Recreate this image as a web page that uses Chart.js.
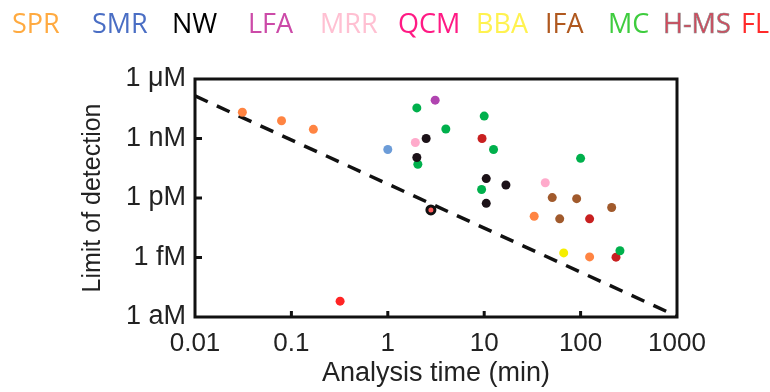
<!DOCTYPE html>
<html>
<head>
<meta charset="utf-8">
<script src="https://cdn.jsdelivr.net/npm/chart.js@4.4.1/dist/chart.umd.min.js"></script>
<style>
  body { margin: 0; background: #fff; }
  #wrap { position: relative; width: 770px; height: 392px; }
  #legend span { position: absolute; top: 9px; font-family: "Open Sans", sans-serif; font-size: 27px; line-height: 27px; white-space: nowrap; }
</style>
</head>
<body>
<div id="wrap">
  <canvas id="lodChart" width="770" height="392"></canvas>
  <div id="legend"></div>
</div>
<script>
// legend entries (technique names)
const techniques = ['SPR', 'SMR', 'NW', 'LFA', 'MRR', 'QCM', 'BBA', 'IFA', 'MC', 'H-MS', 'FL']

// analysis time (min) / limit of detection (M)
const sprTime = [0.031, 0.079, 0.169, 33, 124]
const sprLod = [2.1e-8, 7.9e-9, 2.9e-9, 1.2e-13, 1.07e-15]
const smrTime = [1.0]
const smrLod = [2.8e-10]
const nwTime = [2.0, 2.5, 10.5, 16.8, 10.5]
const nwLod = [1.1e-10, 1e-9, 9.5e-12, 4.5e-12, 5.4e-13]
const lfaTime = [3.1]
const lfaLod = [8.6e-8]
const mrrTime = [1.93, 43]
const mrrLod = [6.3e-10, 5.9e-12]
const bbaTime = [66.8]
const bbaLod = [1.7e-15]
const ifaTime = [50.8, 91, 210, 60.7]
const ifaLod = [1.05e-12, 9.3e-13, 3.3e-13, 8.9e-14]
const mcTime = [2.0, 2.05, 10, 4.0, 12.5, 100, 9.4, 256]
const mcLod = [3.5e-8, 5e-11, 1.35e-8, 3e-9, 2.8e-10, 1e-10, 2.7e-12, 2.2e-15]
const hmsTime = [9.5, 124, 233]
const hmsLod = [1e-9, 8.9e-14, 1.04e-15]
const ringTime = [2.8]
const ringLod = [2.5e-13]
const flTime = [0.32]
const flLod = [6.3e-18]

// dashed guide line
const trendTime = [0.01, 1000]
const trendLod = [1.4e-7, 1.1e-18]

// axis ticks
const xTicks = [0.01, 0.1, 1, 10, 100, 1000]
const xTickLabels = ['0.01', '0.1', '1', '10', '100', '1000']
const yTicks = [1e-18, 1e-15, 1e-12, 1e-9, 1e-6]
const yTickLabels = ['1 aM', '1 fM', '1 pM', '1 nM', '1 \u03bcM']

// legend text styling
const legendLeft = [12, 92, 172, 248, 320, 398, 476, 545, 608, 663, 741]
const legendColors = ['#ffaa40', '#4a6ec4', '#000000', '#cc4aa8', '#ffc0d2', '#ff1a84', '#fff250', '#b0581e', '#3ecc3e', '#d6465a', '#ff2a2a']

const legend = document.getElementById('legend')
techniques.forEach((name, i) => {
  const s = document.createElement('span')
  s.textContent = name
  s.style.left = legendLeft[i] + 'px'
  s.style.color = legendColors[i]
  if (name === 'H-MS') s.style.webkitTextStroke = '0.6px #8a8a8a'
  legend.appendChild(s)
})

const pts = (t, l) => t.map((x, i) => ({ x: x, y: l[i] }))
const dots = (label, t, l, color) => ({
  label: label,
  data: pts(t, l),
  backgroundColor: color,
  borderColor: color,
  pointRadius: 4.5,
  borderWidth: 0
})

// box + inward tick marks
const frame = {
  id: 'frame',
  afterDraw(chart) {
    const { ctx, chartArea: a, scales } = chart
    ctx.save()
    ctx.strokeStyle = '#111'
    ctx.lineWidth = 3
    ctx.beginPath()
    xTicks.slice(1, -1).forEach(v => {
      const px = scales.x.getPixelForValue(v)
      ctx.moveTo(px, a.bottom)
      ctx.lineTo(px, a.bottom - 6)
    })
    yTicks.slice(1, -1).forEach(v => {
      const py = scales.y.getPixelForValue(v)
      ctx.moveTo(a.left, py)
      ctx.lineTo(a.left + 7, py)
    })
    ctx.stroke()
    ctx.strokeRect(a.left, a.top, a.right - a.left, a.bottom - a.top)
    ctx.restore()
  }
}

const ctx = document.getElementById('lodChart')

new Chart(ctx, {
  type: 'scatter',
  data: {
    datasets: [
      {
        label: 'H-MS',
        data: pts(ringTime, ringLod),
        backgroundColor: '#ff5a5a',
        borderColor: '#111',
        borderWidth: 3,
        pointRadius: 4
      },
      dots('SPR', sprTime, sprLod, '#ff8442'),
      dots('SMR', smrTime, smrLod, '#6c9cd8'),
      dots('NW', nwTime, nwLod, '#1c1218'),
      dots('LFA', lfaTime, lfaLod, '#b044b0'),
      dots('MRR', mrrTime, mrrLod, '#ffaacb'),
      dots('BBA', bbaTime, bbaLod, '#f5ee00'),
      dots('IFA', ifaTime, ifaLod, '#a15a2c'),
      dots('MC', mcTime, mcLod, '#00b04c'),
      dots('H-MS', hmsTime, hmsLod, '#c82020'),
      dots('FL', flTime, flLod, '#ff2424'),
      {
        type: 'line',
        label: 'trend',
        data: pts(trendTime, trendLod),
        borderColor: '#111',
        borderWidth: 3.5,
        borderDash: [14, 10],
        pointRadius: 0,
        fill: false
      }
    ]
  },
  options: {
    responsive: false,
    animation: false,
    layout: { padding: { left: 0, right: 93, top: 79, bottom: 0 } },
    plugins: {
      legend: { display: false },
      tooltip: { enabled: false }
    },
    scales: {
      x: {
        type: 'logarithmic',
        min: 0.01,
        max: 1000,
        grid: { display: false },
        border: { display: false },
        afterBuildTicks: (scale) => { scale.ticks = xTicks.map(v => ({ value: v })) },
        afterFit: (scale) => { scale.height = 75 },
        ticks: {
          padding: 3,
          color: '#222',
          font: { family: 'Liberation Sans', size: 26 },
          callback: (value, index) => xTickLabels[index]
        },
        title: {
          display: true,
          text: 'Analysis time (min)',
          color: '#222',
          font: { family: 'Liberation Sans', size: 27 },
          padding: { bottom: 2 }
        }
      },
      y: {
        type: 'logarithmic',
        min: 1e-18,
        max: 1e-6,
        grid: { display: false },
        border: { display: false },
        afterBuildTicks: (scale) => { scale.ticks = yTicks.map(v => ({ value: v })) },
        afterFit: (scale) => { scale.width = 195 },
        ticks: {
          padding: 1,
          color: '#222',
          font: { family: 'Liberation Sans', size: 27 },
          callback: (value, index) => yTickLabels[index]
        },
        title: {
          display: true,
          text: 'Limit of detection',
          color: '#222',
          font: { family: 'Liberation Sans', size: 25 },
          padding: { top: 78 }
        }
      }
    }
  },
  plugins: [frame]
})
</script>
</body>
</html>
